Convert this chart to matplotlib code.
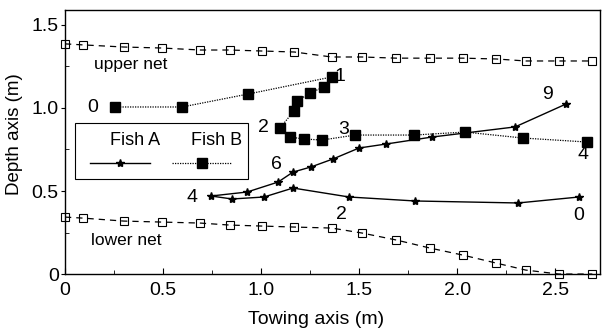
import matplotlib.pyplot as plt
from matplotlib.patches import Rectangle
from matplotlib.ticker import MultipleLocator

plt.rcParams['font.family'] = ['Liberation Sans Narrow', 'Liberation Sans', 'DejaVu Sans']

# net positions (towing axis, depth axis)
upper_x = [0.0, 0.09, 0.30, 0.495, 0.69, 0.84, 1.005, 1.17, 1.36, 1.515, 1.69, 1.86, 2.03, 2.20, 2.35, 2.52, 2.69]
upper_y = [1.386, 1.38, 1.367, 1.361, 1.349, 1.349, 1.343, 1.337, 1.307, 1.307, 1.30, 1.30, 1.30, 1.295, 1.283, 1.283, 1.283]
lower_x = upper_x
lower_y = [0.343, 0.337, 0.319, 0.313, 0.307, 0.295, 0.289, 0.283, 0.277, 0.247, 0.205, 0.157, 0.114, 0.066, 0.024, 0.0, 0.0]

# fish tracks
fishA_x = [2.622, 2.311, 1.786, 1.449, 1.163, 1.015, 0.852, 0.745, 0.929, 1.087, 1.163, 1.255, 1.367, 1.50, 1.638, 1.872, 2.296, 2.556]
fishA_y = [0.464, 0.428, 0.44, 0.464, 0.518, 0.464, 0.452, 0.47, 0.494, 0.554, 0.614, 0.645, 0.693, 0.759, 0.783, 0.825, 0.886, 1.024]
fishB_x = [0.255, 0.597, 0.934, 1.362, 1.321, 1.25, 1.184, 1.168, 1.097, 1.148, 1.219, 1.311, 1.48, 1.78, 2.04, 2.337, 2.663]
fishB_y = [1.006, 1.006, 1.084, 1.187, 1.127, 1.090, 1.042, 0.982, 0.880, 0.825, 0.813, 0.807, 0.837, 0.837, 0.855, 0.819, 0.795]

# time labels
labA = ['0', '2', '4', '6', '9']
labA_xy = [(2.62, 0.35), (1.41, 0.36), (0.65, 0.46), (1.08, 0.66), (2.46, 1.08)]
labB = ['0', '1', '2', '3', '4']
labB_xy = [(0.14, 1.00), (1.40, 1.19), (1.01, 0.88), (1.42, 0.87), (2.64, 0.72)]

fig = plt.figure(figsize=(6.02, 3.33), dpi=100)
ax = fig.add_axes([0.108, 0.177, 0.889, 0.793])

ax.plot(upper_x, upper_y, color='black', ls=(0, (5, 4)), lw=0.9, marker='s', ms=6,
        mfc='none', mec='black', mew=0.8, clip_on=False)
ax.plot(lower_x, lower_y, color='black', ls=(0, (5, 4)), lw=0.9, marker='s', ms=6,
        mfc='none', mec='black', mew=0.8, clip_on=False)
ax.plot(fishB_x, fishB_y, color='black', ls=(0, (1, 1)), lw=0.9, marker='s', ms=6.5,
        mfc='black', mec='black')
ax.plot(fishA_x, fishA_y, color='black', ls='-', lw=1.0, marker='*', ms=6,
        mfc='black', mec='black')

for t, (x, y) in zip(labA, labA_xy):
    ax.text(x, y, t, fontsize=14, ha='center', va='center')
for t, (x, y) in zip(labB, labB_xy):
    ax.text(x, y, t, fontsize=14, ha='center', va='center')

ax.text(0.15, 1.26, 'upper net', fontsize=12.5, ha='left', va='center')
ax.text(0.13, 0.205, 'lower net', fontsize=12.5, ha='left', va='center')

# legend drawn by hand (labels above the line samples)
ax.add_patch(Rectangle((0.019, 0.36), 0.323, 0.212, transform=ax.transAxes,
                       fill=False, ec='black', lw=0.8))
ax.text(0.131, 0.505, 'Fish A', transform=ax.transAxes, fontsize=13, ha='center', va='center')
ax.text(0.283, 0.505, 'Fish B', transform=ax.transAxes, fontsize=13, ha='center', va='center')
ax.plot([0.047, 0.159], [0.42, 0.42], transform=ax.transAxes, color='black', lw=1.0)
ax.plot([0.102], [0.42], transform=ax.transAxes, marker='*', ms=6, color='black')
ax.plot([0.200, 0.312], [0.42, 0.42], transform=ax.transAxes, color='black', lw=0.9, ls=(0, (1, 1)))
ax.plot([0.256], [0.42], transform=ax.transAxes, marker='s', ms=6.5, color='black')

ax.set_xlim(0, 2.73)
ax.set_ylim(0, 1.59)
ax.xaxis.set_minor_locator(MultipleLocator(0.25))
ax.yaxis.set_minor_locator(MultipleLocator(0.25))
ax.set_xticks([0, 0.5, 1.0, 1.5, 2.0, 2.5])
ax.set_xticklabels(['0', '0.5', '1.0', '1.5', '2.0', '2.5'])
ax.set_yticks([0, 0.5, 1.0, 1.5])
ax.set_yticklabels(['0', '0.5', '1.0', '1.5'])
ax.tick_params(axis='x', which='both', direction='in', length=4, labelsize=14, pad=6)
ax.tick_params(axis='x', which='minor', length=3)
ax.tick_params(axis='y', which='major', direction='out', length=3, labelsize=14, pad=1.5)
ax.tick_params(axis='y', which='minor', direction='in', length=3)
for s in ax.spines.values():
    s.set_linewidth(1.0)

ax.set_xlabel('Towing axis (m)', fontsize=14)
ax.set_ylabel('Depth axis (m)', fontsize=13.5)
ax.xaxis.set_label_coords(0.47, -0.14)
ax.yaxis.set_label_coords(-0.078, 0.53)

plt.savefig('out.png', dpi=100)
